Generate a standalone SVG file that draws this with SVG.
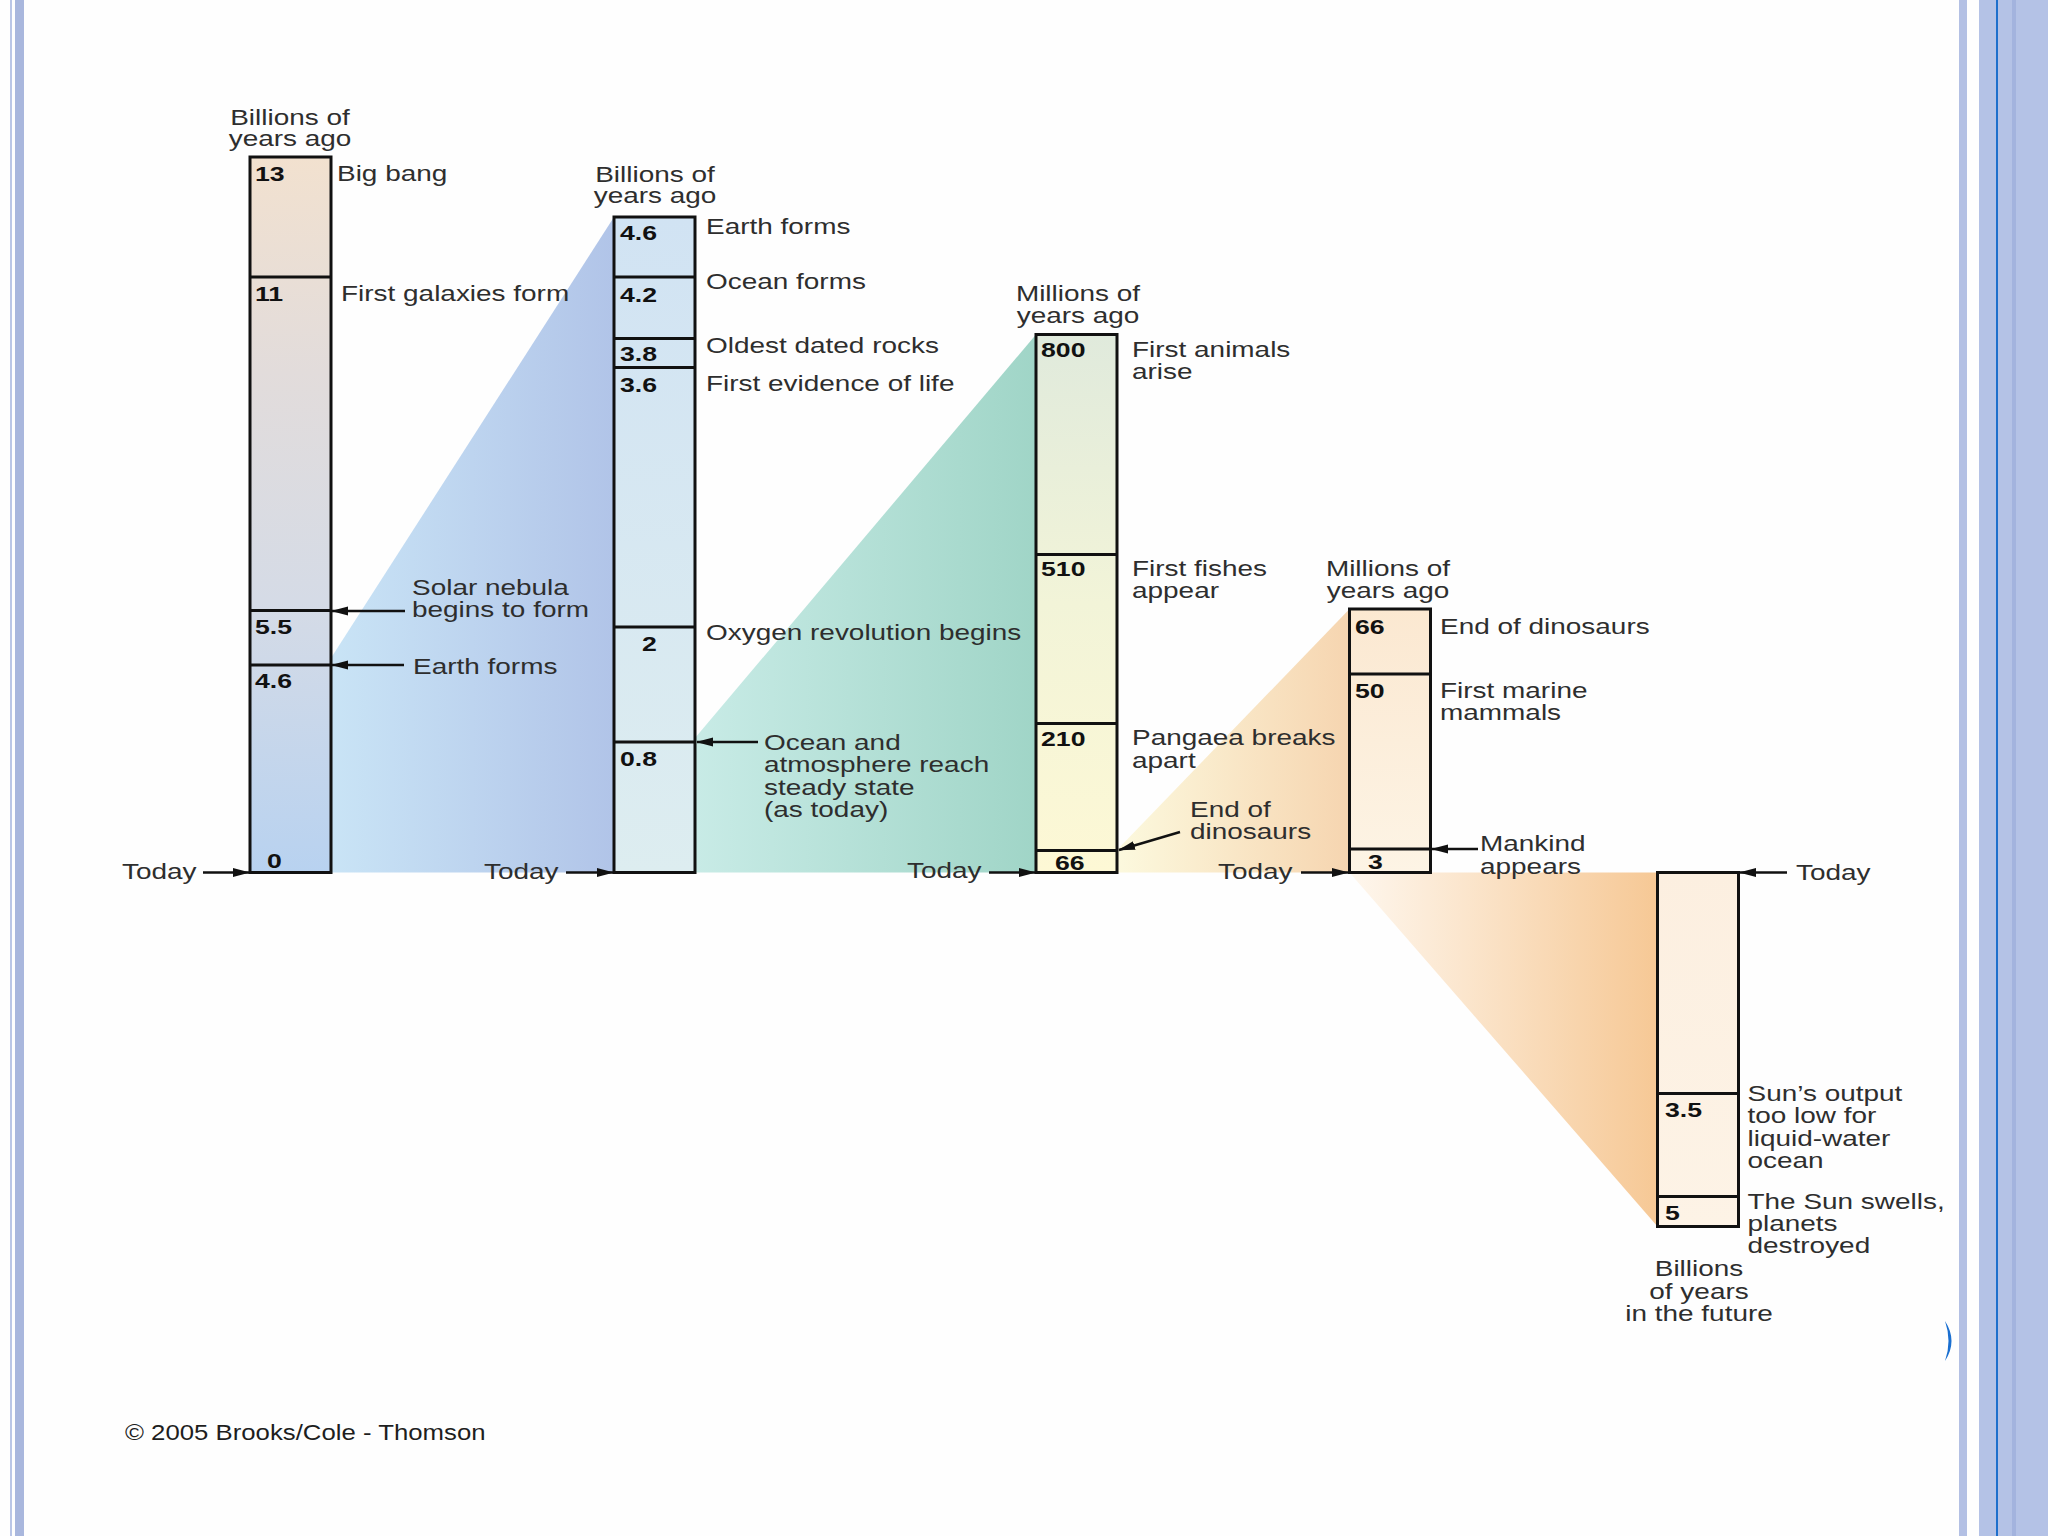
<svg xmlns="http://www.w3.org/2000/svg" width="2048" height="1536" viewBox="0 0 2048 1536">
<defs>
<style>
.lbl{font-family:"Liberation Sans",Arial,Helvetica,sans-serif;font-size:21.5px;fill:#2e2e2e}
.hdr{font-family:"Liberation Sans",Arial,Helvetica,sans-serif;font-size:21.5px;fill:#2e2e2e;text-anchor:middle}
.num{font-family:"Liberation Sans",Arial,Helvetica,sans-serif;font-size:20.5px;font-weight:bold;fill:#111}
.box{stroke:#111;stroke-width:3}
.dv{stroke:#111;stroke-width:3}
.arr{stroke:#111;stroke-width:2.5;fill:none;marker-end:url(#ah)}
.band{fill:#b3c0e4}
</style>
<marker id="ah" markerUnits="userSpaceOnUse" markerWidth="17" markerHeight="10" refX="16" refY="5" orient="auto">
<path d="M0,0.5 L17,5 L0,9.5 Z" fill="#111"/>
</marker>
<linearGradient id="gw1" gradientUnits="userSpaceOnUse" x1="331" y1="0" x2="614" y2="0">
<stop offset="0" stop-color="#c9e4f6"/><stop offset="1" stop-color="#b1c4e8"/>
</linearGradient>
<linearGradient id="gw2" gradientUnits="userSpaceOnUse" x1="695" y1="0" x2="1036" y2="0">
<stop offset="0" stop-color="#c8ebe6"/><stop offset="1" stop-color="#a0d5c7"/>
</linearGradient>
<linearGradient id="gw3" gradientUnits="userSpaceOnUse" x1="1117" y1="0" x2="1349" y2="0">
<stop offset="0" stop-color="#fcf9de"/><stop offset="1" stop-color="#f6d5b0"/>
</linearGradient>
<linearGradient id="gw4" gradientUnits="userSpaceOnUse" x1="1349" y1="0" x2="1658" y2="0">
<stop offset="0" stop-color="#fef7ee"/><stop offset="1" stop-color="#f6c895"/>
</linearGradient>
<linearGradient id="gc1" x1="0" y1="0" x2="0" y2="1">
<stop offset="0" stop-color="#f2e1cf"/><stop offset="0.3" stop-color="#e2dcdb"/><stop offset="0.62" stop-color="#d5dbe6"/><stop offset="1" stop-color="#b8d2f0"/>
</linearGradient>
<linearGradient id="gc2" x1="0" y1="0" x2="0" y2="1">
<stop offset="0" stop-color="#d1e3f3"/><stop offset="1" stop-color="#ddedf0"/>
</linearGradient>
<linearGradient id="gc3" x1="0" y1="0" x2="0" y2="1">
<stop offset="0" stop-color="#e0eadc"/><stop offset="0.5" stop-color="#f2f4d8"/><stop offset="1" stop-color="#fdf8d5"/>
</linearGradient>
<linearGradient id="gc4" x1="0" y1="0" x2="0" y2="1">
<stop offset="0" stop-color="#fbe8d1"/><stop offset="1" stop-color="#fdf4e5"/>
</linearGradient>
<linearGradient id="gc5" x1="0" y1="0" x2="0" y2="1">
<stop offset="0" stop-color="#fcefe0"/><stop offset="1" stop-color="#fdf3e6"/>
</linearGradient>
</defs>

<rect x="0" y="0" width="2048" height="1536" fill="#fefefe"/>

<g id="frame">
<rect x="10" y="0" width="2" height="1536" fill="#bac6e6"/>
<rect x="15" y="0" width="9" height="1536" fill="#a9b7dd"/>
<rect x="1959" y="0" width="8" height="1536" class="band"/>
<rect x="1979" y="0" width="69" height="1536" fill="#b4c2e6"/>
<rect x="2012" y="0" width="4" height="1536" fill="#a3b3de"/>
<rect x="1996" y="0" width="2" height="1536" fill="#1e6fcc"/>
<path d="M1945,1321 Q1958,1341 1945,1361 Q1952,1341 1945,1321 Z" fill="#1a6fd0"/>
</g>

<g id="wedges">
<polygon points="331,658 614,217 614,872.5 331,872.5" fill="url(#gw1)"/>
<polygon points="695,738 1036,334.5 1036,872.5 695,872.5" fill="url(#gw2)"/>
<polygon points="1117,850 1349.5,609 1349.5,872.5 1117,872.5" fill="url(#gw3)"/>
<polygon points="1349.5,872.5 1657.5,872.5 1657.5,1226.5" fill="url(#gw4)"/>
</g>

<g id="col-billions-ago">
<text class="hdr" transform="matrix(1.3 0 0 1 290 125)"><tspan x="0">Billions of</tspan><tspan x="0" dy="21">years ago</tspan></text>
<rect class="box" x="250" y="157" width="81" height="715.5" fill="url(#gc1)"/>
<line class="dv" x1="250" y1="277" x2="331" y2="277"/>
<line class="dv" x1="250" y1="610.5" x2="331" y2="610.5"/>
<line class="dv" x1="250" y1="665" x2="331" y2="665"/>
<text class="num" transform="matrix(1.3 0 0 1 255 181)">13</text>
<text class="num" transform="matrix(1.3 0 0 1 255 301)">11</text>
<text class="num" transform="matrix(1.3 0 0 1 255 633.5)">5.5</text>
<text class="num" transform="matrix(1.3 0 0 1 255 688)">4.6</text>
<text class="num" transform="matrix(1.3 0 0 1 267 868)">0</text>
</g>

<g id="col-earth">
<text class="hdr" transform="matrix(1.3 0 0 1 655 181.5)"><tspan x="0">Billions of</tspan><tspan x="0" dy="21.5">years ago</tspan></text>
<rect class="box" x="614" y="217" width="81" height="655.5" fill="url(#gc2)"/>
<line class="dv" x1="614" y1="277" x2="695" y2="277"/>
<line class="dv" x1="614" y1="338.5" x2="695" y2="338.5"/>
<line class="dv" x1="614" y1="367.5" x2="695" y2="367.5"/>
<line class="dv" x1="614" y1="627" x2="695" y2="627"/>
<line class="dv" x1="614" y1="742" x2="695" y2="742"/>
<text class="num" transform="matrix(1.3 0 0 1 620 239.5)">4.6</text>
<text class="num" transform="matrix(1.3 0 0 1 620 301.5)">4.2</text>
<text class="num" transform="matrix(1.3 0 0 1 620 360.5)">3.8</text>
<text class="num" transform="matrix(1.3 0 0 1 620 391.5)">3.6</text>
<text class="num" transform="matrix(1.3 0 0 1 642 651)">2</text>
<text class="num" transform="matrix(1.3 0 0 1 620 766)">0.8</text>
</g>

<g id="col-millions-800">
<text class="hdr" transform="matrix(1.3 0 0 1 1078 301)"><tspan x="0">Millions of</tspan><tspan x="0" dy="22">years ago</tspan></text>
<rect class="box" x="1036" y="334.5" width="81" height="538" fill="url(#gc3)"/>
<line class="dv" x1="1036" y1="554.5" x2="1117" y2="554.5"/>
<line class="dv" x1="1036" y1="723.5" x2="1117" y2="723.5"/>
<line class="dv" x1="1036" y1="850.5" x2="1117" y2="850.5"/>
<text class="num" transform="matrix(1.3 0 0 1 1041 357)">800</text>
<text class="num" transform="matrix(1.3 0 0 1 1041 576)">510</text>
<text class="num" transform="matrix(1.3 0 0 1 1041 745.5)">210</text>
<text class="num" transform="matrix(1.3 0 0 1 1055 870)">66</text>
</g>

<g id="col-millions-66">
<text class="hdr" transform="matrix(1.3 0 0 1 1388 575.5)"><tspan x="0">Millions of</tspan><tspan x="0" dy="22.5">years ago</tspan></text>
<rect class="box" x="1349.5" y="609" width="81" height="263.5" fill="url(#gc4)"/>
<line class="dv" x1="1349.5" y1="674" x2="1430.5" y2="674"/>
<line class="dv" x1="1349.5" y1="849" x2="1430.5" y2="849"/>
<text class="num" transform="matrix(1.3 0 0 1 1355 634)">66</text>
<text class="num" transform="matrix(1.3 0 0 1 1355 697.5)">50</text>
<text class="num" transform="matrix(1.3 0 0 1 1368 869)">3</text>
</g>

<g id="col-future">
<rect class="box" x="1657.5" y="872.5" width="81" height="354" fill="url(#gc5)"/>
<line class="dv" x1="1657.5" y1="1093.5" x2="1738.5" y2="1093.5"/>
<line class="dv" x1="1657.5" y1="1196.5" x2="1738.5" y2="1196.5"/>
<text class="num" transform="matrix(1.3 0 0 1 1665 1117)">3.5</text>
<text class="num" transform="matrix(1.3 0 0 1 1665 1219.5)">5</text>
<text class="hdr" transform="matrix(1.3 0 0 1 1699 1276)"><tspan x="0">Billions</tspan><tspan x="0" dy="23">of years</tspan><tspan x="0" dy="22.5">in the future</tspan></text>
</g>

<g id="connectors">
<line class="arr" x1="203" y1="872.5" x2="249" y2="872.5"/>
<line class="arr" x1="566" y1="872.5" x2="613" y2="872.5"/>
<line class="arr" x1="989" y1="872.5" x2="1035" y2="872.5"/>
<line class="arr" x1="1301" y1="872.5" x2="1348" y2="872.5"/>
<line class="arr" x1="1787" y1="872.5" x2="1740" y2="872.5"/>
<line class="arr" x1="405" y1="611" x2="332" y2="611"/>
<line class="arr" x1="404" y1="665" x2="332" y2="665"/>
<line class="arr" x1="758" y1="742" x2="697" y2="742"/>
<line class="arr" x1="1180" y1="832" x2="1119" y2="850"/>
<line class="arr" x1="1478" y1="849" x2="1432" y2="849"/>
</g>

<g id="labels">
<text class="lbl" transform="matrix(1.3 0 0 1 122 879)">Today</text>
<text class="lbl" transform="matrix(1.3 0 0 1 484 879)">Today</text>
<text class="lbl" transform="matrix(1.3 0 0 1 907 878)">Today</text>
<text class="lbl" transform="matrix(1.3 0 0 1 1218 879)">Today</text>
<text class="lbl" transform="matrix(1.3 0 0 1 1796 880)">Today</text>

<text class="lbl" transform="matrix(1.3 0 0 1 337 181)">Big bang</text>
<text class="lbl" transform="matrix(1.3 0 0 1 341 301)">First galaxies form</text>
<text class="lbl" transform="matrix(1.3 0 0 1 412 594.5)"><tspan x="0">Solar nebula</tspan><tspan x="0" dy="23">begins to form</tspan></text>
<text class="lbl" transform="matrix(1.3 0 0 1 413 674)">Earth forms</text>

<text class="lbl" transform="matrix(1.3 0 0 1 706 233.5)">Earth forms</text>
<text class="lbl" transform="matrix(1.3 0 0 1 706 288.5)">Ocean forms</text>
<text class="lbl" transform="matrix(1.3 0 0 1 706 352.5)">Oldest dated rocks</text>
<text class="lbl" transform="matrix(1.3 0 0 1 706 390.5)">First evidence of life</text>
<text class="lbl" transform="matrix(1.3 0 0 1 706 640)">Oxygen revolution begins</text>
<text class="lbl" transform="matrix(1.3 0 0 1 764 750)"><tspan x="0">Ocean and</tspan><tspan x="0" dy="22.4">atmosphere reach</tspan><tspan x="0" dy="22.4">steady state</tspan><tspan x="0" dy="22.4">(as today)</tspan></text>

<text class="lbl" transform="matrix(1.3 0 0 1 1132 356.5)"><tspan x="0">First animals</tspan><tspan x="0" dy="22.3">arise</tspan></text>
<text class="lbl" transform="matrix(1.3 0 0 1 1132 575.5)"><tspan x="0">First fishes</tspan><tspan x="0" dy="22.3">appear</tspan></text>
<text class="lbl" transform="matrix(1.3 0 0 1 1132 745)"><tspan x="0">Pangaea breaks</tspan><tspan x="0" dy="22.6">apart</tspan></text>
<text class="lbl" transform="matrix(1.3 0 0 1 1190 817)"><tspan x="0">End of</tspan><tspan x="0" dy="22.3">dinosaurs</tspan></text>

<text class="lbl" transform="matrix(1.3 0 0 1 1440 634)">End of dinosaurs</text>
<text class="lbl" transform="matrix(1.3 0 0 1 1440 697.5)"><tspan x="0">First marine</tspan><tspan x="0" dy="22.4">mammals</tspan></text>
<text class="lbl" transform="matrix(1.3 0 0 1 1480 851)"><tspan x="0">Mankind</tspan><tspan x="0" dy="23">appears</tspan></text>

<text class="lbl" transform="matrix(1.3 0 0 1 1747.5 1100.5)"><tspan x="0">Sun’s output</tspan><tspan x="0" dy="22.6">too low for</tspan><tspan x="0" dy="22.6">liquid-water</tspan><tspan x="0" dy="22.6">ocean</tspan></text>
<text class="lbl" transform="matrix(1.3 0 0 1 1747.5 1208.5)"><tspan x="0">The Sun swells,</tspan><tspan x="0" dy="22.5">planets</tspan><tspan x="0" dy="22.5">destroyed</tspan></text>
</g>

<g id="credit">
<text transform="matrix(1.12 0 0 1 125 1440)" style="font-family:'Liberation Sans',Arial,Helvetica,sans-serif;font-size:23px;fill:#1e1e1e">© 2005 Brooks/Cole - Thomson</text>
</g>
</svg>
